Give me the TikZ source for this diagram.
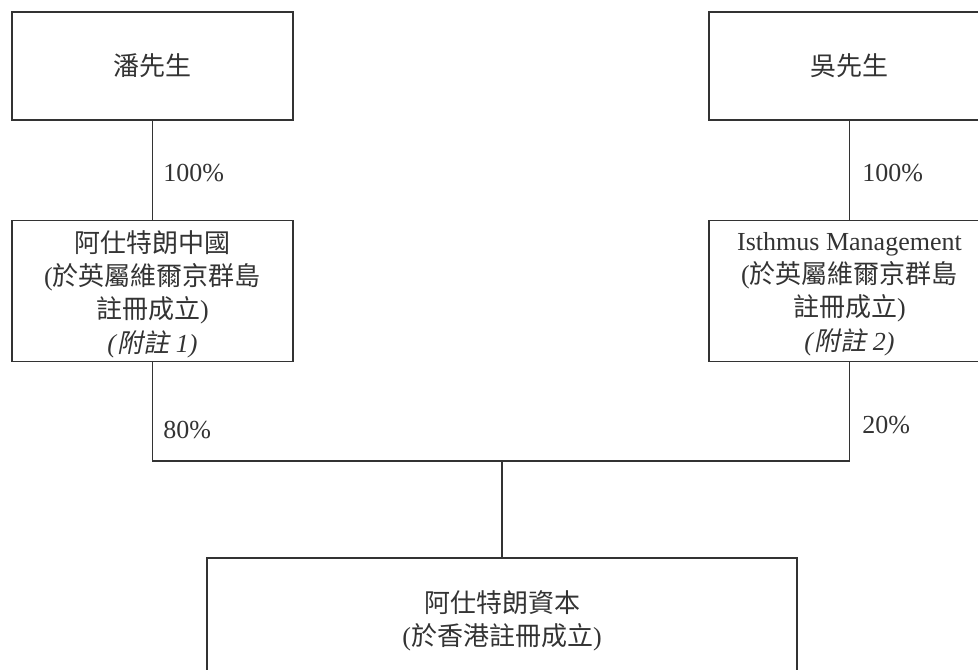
\documentclass[tikz,border=0pt]{standalone}
\usepackage{fontspec}
\setmainfont{Liberation Serif}
\newfontfamily\cjk{Noto Sans CJK TC}
\newfontfamily\cjkit{Noto Sans CJK TC}[FakeSlant=0.2]
\newcommand\ck[1]{{\cjk #1}}
\newcommand\cki[1]{{\cjkit #1}}
\definecolor{ink}{HTML}{333333}
\begin{document}
\begin{tikzpicture}[x=0.75pt,y=-0.75pt,
  every node/.style={text=ink},
  entbox/.style={draw=ink,line width=0.9pt,rectangle,inner sep=0pt,align=center,
    font=\fontsize{19.5}{24.75}\selectfont},
  boxtext/.style={inner sep=0pt,align=center,font=\fontsize{19.5}{25}\selectfont},
  pct/.style={anchor=west,inner sep=0pt,font=\fontsize{19.5}{24.75}\selectfont},
  link/.style={draw=ink,line width=0.9pt}]
\useasboundingbox (0,0) rectangle (978,669);
\node[entbox,minimum width=281*0.75pt,minimum height=108*0.75pt] (pan) at (152.5,66) {\ck{潘先生}};
\node[entbox,minimum width=281*0.75pt,minimum height=108*0.75pt] (wu) at (849.5,66) {\ck{吳先生}};
\node[entbox,minimum width=281*0.75pt,minimum height=141*0.75pt] (china) at (152.5,291) {};
\node[boxtext] (chinat) at (152.5,294)
  {\ck{阿仕特朗中國}\\(\ck{於英屬維爾京群島}\\\ck{註冊成立})\\\textit{(}\cki{附註}\textit{ 1)}};
\node[entbox,minimum width=281*0.75pt,minimum height=141*0.75pt] (isth) at (849.5,291) {};
\node[boxtext] (istht) at (849.5,294)
  {Isthmus Management\\(\ck{於英屬維爾京群島}\\\ck{註冊成立})\\\textit{(}\cki{附註}\textit{ 2)}};
\node[entbox,minimum width=590*0.75pt,minimum height=126*0.75pt] (cap) at (502,621)
  {\ck{阿仕特朗資本}\\(\ck{於香港註冊成立})};
\coordinate (j) at (502,461);
\draw[link] (pan.south) -- (china.north);
\draw[link] (wu.south) -- (isth.north);
\draw[link] (china.south) -- (china.south |- j) -- (isth.south |- j) -- (isth.south);
\draw[link] (j) -- (cap.north);
\node[pct] (p1) at (163,173) {100\%};
\node[pct] (p2) at (862,173) {100\%};
\node[pct] (p3) at (163,430) {80\%};
\node[pct] (p4) at (862,425) {20\%};
\end{tikzpicture}
\end{document}
